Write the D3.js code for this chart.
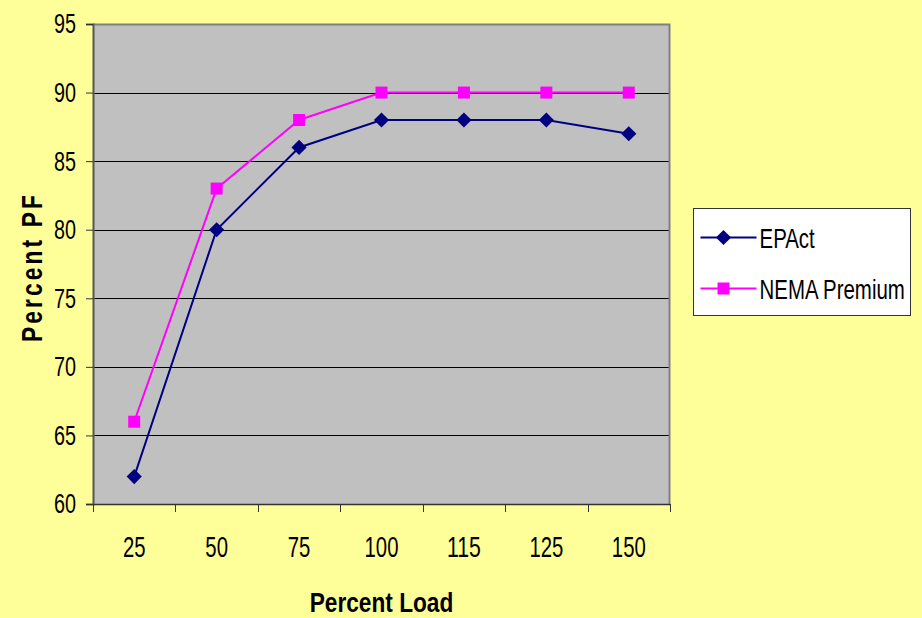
<!DOCTYPE html>
<html>
<head>
<meta charset="utf-8">
<script src="https://cdn.jsdelivr.net/npm/d3@7"></script>
<style>
  body { margin: 0; background: #FFFF99; }
  svg { display: block; }
  text { font-family: "Liberation Sans", Arial, sans-serif; }
</style>
</head>
<body>
<div id="chart"></div>
<script>
// chart data
var loads = ["25", "50", "75", "100", "115", "125", "150"];
var epact = [62, 80, 86, 88, 88, 88, 87];
var nema = [66, 83, 88, 90, 90, 90, 90];
var yTicks = [60, 65, 70, 75, 80, 85, 90, 95];
var seriesNames = ["EPAct", "NEMA Premium"];

var svgWidth = 922;
var svgHeight = 618;

var margin = { top: 24, right: 252, bottom: 114, left: 93 };
var width = svgWidth - margin.left - margin.right;
var height = svgHeight - margin.top - margin.bottom;

// the original uses a narrow font, so squeeze text to its measured width
function narrow(sel, perChar) {
  sel.attr("textLength", function() { return this.textContent.length * perChar; })
    .attr("lengthAdjust", "spacingAndGlyphs");
}

var svg = d3.select("#chart")
  .append("svg")
  .attr("width", svgWidth)
  .attr("height", svgHeight);

svg.append("rect")
  .attr("width", svgWidth)
  .attr("height", svgHeight)
  .attr("fill", "#FFFF99");

var chart = svg.append("g")
  .attr("transform", `translate(${margin.left}, ${margin.top})`);

var x = d3.scaleBand().domain(loads).range([0, width]);
var y = d3.scaleLinear().domain([60, 95]).range([height, 0]);

// plot area
chart.append("rect")
  .attr("width", width)
  .attr("height", height)
  .attr("fill", "#C0C0C0");

// gridlines
chart.selectAll(".grid")
  .data(yTicks.slice(1, -1))
  .enter()
  .append("line")
  .attr("x1", 0)
  .attr("x2", width)
  .attr("y1", d => Math.round(y(d)) + 0.5)
  .attr("y2", d => Math.round(y(d)) + 0.5)
  .attr("stroke", "#000")
  .attr("stroke-width", 1);

// top and right border
chart.append("path")
  .attr("d", `M0,0.5H${width - 0.5}V${height}`)
  .attr("fill", "none")
  .attr("stroke", "#808080")
  .attr("stroke-width", 2);

// axes
var leftAxis = d3.axisLeft(y).tickValues(yTicks).tickSize(7).tickPadding(10);
var yAxis = chart.append("g").call(leftAxis);
yAxis.select(".domain").attr("stroke", "#555").attr("stroke-width", 2);
yAxis.selectAll(".tick line").attr("stroke", "#333");
yAxis.selectAll(".tick text")
  .attr("font-size", "28px")
  .attr("font-family", "Liberation Sans, Arial, sans-serif")
  .attr("fill", "#000")
  .call(narrow, 11);

var bottomAxis = d3.axisBottom(x).tickSize(0);
var xAxis = chart.append("g")
  .attr("transform", `translate(0, ${height})`)
  .call(bottomAxis);
xAxis.select(".domain").attr("stroke", "#333").attr("stroke-width", 1.5);
xAxis.selectAll(".tick text")
  .attr("font-size", "29px")
  .attr("font-family", "Liberation Sans, Arial, sans-serif")
  .attr("fill", "#000")
  .attr("dy", null)
  .attr("y", 53)
  .call(narrow, 11.3);

// category boundary ticks
chart.selectAll(".xtick")
  .data(loads.concat(["end"]))
  .enter()
  .append("line")
  .attr("x1", (d, i) => Math.round(i * x.step()) + 0.5)
  .attr("x2", (d, i) => Math.round(i * x.step()) + 0.5)
  .attr("y1", height)
  .attr("y2", height + 8)
  .attr("stroke", "#333");

// lines
var line = d3.line()
  .x((d, i) => x(loads[i]) + x.bandwidth() / 2)
  .y(d => y(d));

chart.append("path")
  .datum(nema)
  .attr("d", line)
  .attr("fill", "none")
  .attr("stroke", "#FF00FF")
  .attr("stroke-width", 2);

chart.append("path")
  .datum(epact)
  .attr("d", line)
  .attr("fill", "none")
  .attr("stroke", "#000080")
  .attr("stroke-width", 2);

// markers
var diamond = d3.symbol().type(d3.symbolSquare).size(115);

chart.selectAll(".sq")
  .data(nema)
  .enter()
  .append("rect")
  .attr("x", (d, i) => x(loads[i]) + x.bandwidth() / 2 - 6)
  .attr("y", d => y(d) - 6)
  .attr("width", 12)
  .attr("height", 12)
  .attr("fill", "#FF00FF");

chart.selectAll(".dm")
  .data(epact)
  .enter()
  .append("path")
  .attr("d", diamond)
  .attr("transform", (d, i) => `translate(${x(loads[i]) + x.bandwidth() / 2}, ${y(d)}) rotate(45)`)
  .attr("fill", "#000080");

// axis titles
svg.append("text")
  .attr("transform", `translate(42, 267) rotate(-90)`)
  .attr("text-anchor", "middle")
  .attr("font-weight", "bold")
  .attr("font-size", "29px")
  .attr("letter-spacing", "4px")
  .attr("textLength", 150)
  .attr("lengthAdjust", "spacingAndGlyphs")
  .text("Percent PF");

svg.append("text")
  .attr("transform", `translate(${margin.left + width / 2}, 612) scale(0.84, 1)`)
  .attr("text-anchor", "middle")
  .attr("font-weight", "bold")
  .attr("font-size", "27px")
  .text("Percent Load");

// legend
var legend = svg.append("g").attr("transform", "translate(693.5, 208.5)");
legend.append("rect")
  .attr("width", 217)
  .attr("height", 107)
  .attr("fill", "#fff")
  .attr("stroke", "#333")
  .attr("stroke-width", 1);

var colors = ["#000080", "#FF00FF"];
seriesNames.forEach(function(name, i) {
  var ly = 29 + i * 51;
  legend.append("line")
    .attr("x1", 7).attr("x2", 63)
    .attr("y1", ly).attr("y2", ly)
    .attr("stroke", colors[i])
    .attr("stroke-width", 2);
  if (i === 0) {
    legend.append("path")
      .attr("d", diamond)
      .attr("transform", `translate(30, ${ly}) rotate(45)`)
      .attr("fill", colors[i]);
  } else {
    legend.append("rect")
      .attr("x", 24).attr("y", ly - 6)
      .attr("width", 12).attr("height", 12)
      .attr("fill", colors[i]);
  }
  legend.append("text")
    .attr("transform", `translate(66, ${ly + 10}) scale(0.73, 1)`)
    .attr("font-size", "28px")
    .text(name);
});
</script>
</body>
</html>
